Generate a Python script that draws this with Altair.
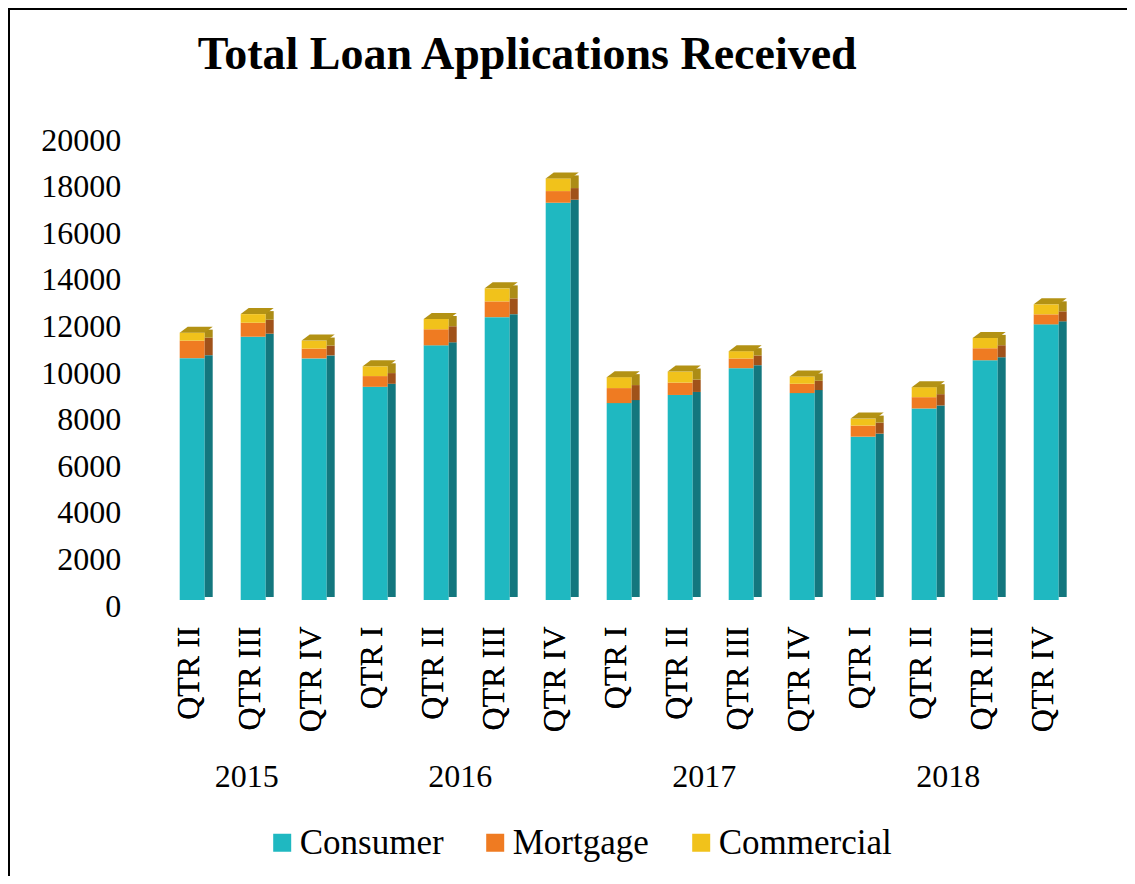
import json
import altair as alt
import pandas as pd

# ---- data ----
quarters = ["QTR II", "QTR III", "QTR IV",
            "QTR I", "QTR II", "QTR III", "QTR IV",
            "QTR I", "QTR II", "QTR III", "QTR IV",
            "QTR I", "QTR II", "QTR III", "QTR IV"]
years = [2015, 2015, 2015,
         2016, 2016, 2016, 2016,
         2017, 2017, 2017, 2017,
         2018, 2018, 2018, 2018]
consumer = [10380, 11300, 10370, 9150, 10930, 12140, 17050,
            8450, 8800, 9950, 8880, 7010, 8220, 10290, 11830]
mortgage = [750, 600, 420, 460, 690, 675, 500,
            645, 530, 415, 400, 475, 485, 515, 430]
commercial = [345, 370, 345, 420, 440, 560, 545,
              470, 475, 315, 315, 300, 430, 445, 430]
series_names = ["Consumer", "Mortgage", "Commercial"]
y_ticks = list(range(0, 20001, 2000))

front_colors = ["#1FB8C1", "#EF7B22", "#F1C21B"]
side_colors = ["#13777E", "#A0521A", "#AC8C16"]
top_color = "#B39214"

rows = []
for i in range(len(quarters)):
    for k, (name, vals) in enumerate(zip(series_names, [consumer, mortgage, commercial])):
        rows.append({"idx": i, "quarter": quarters[i], "year": years[i],
                     "series": name, "ord": k, "value": vals[i]})
df = pd.DataFrame(rows)

# year label positions = mean category index per year
year_list = sorted(set(years))
year_mid = {y: sum(i for i, yy in enumerate(years) if yy == y) / years.count(y) for y in year_list}
year_expr = " : ".join(f"datum.value == {year_mid[y]} ? '{y}'" for y in year_list) + " : ''"
qtr_expr = f"{json.dumps(quarters)}[datum.value]"

FONT = "Liberation Serif"
W, H = 925, 466
PL, PT = 144.7, 126
PR = 1119 - PL - W
PB = 868 - PT - H

xscale = alt.Scale(domain=[-0.5, len(quarters) - 0.5], nice=False, zero=False)
yscale = alt.Scale(domain=[0, 20000], nice=False)

y_axis = alt.Axis(values=y_ticks, format="d", labelFontSize=32, orient="left",
                  labelPadding=32, labelOffset=6, labelColor="#000",
                  labelFlush=False, ticks=False, domain=False, grid=False)
qtr_axis = alt.Axis(values=list(range(len(quarters))), labelExpr=qtr_expr, orient="bottom",
                    labelAngle=-90, labelAlign="right", labelBaseline="middle",
                    labelFontSize=32, labelPadding=26, labelColor="#000",
                    labelOverlap=False, labelFlush=False, ticks=False,
                    domain=False, grid=False)
year_axis = alt.Axis(values=[year_mid[y] for y in year_list], labelExpr=year_expr,
                     orient="bottom", labelFontSize=32, labelColor="#000",
                     labelBaseline="middle", labelPadding=0, offset=176, labelOffset=-3,
                     labelOverlap=False, labelFlush=False, ticks=False,
                     domain=False, grid=False)

base = alt.Chart(df)

front = base.mark_bar(width=25, xOffset=4).encode(
    x=alt.X("idx:Q", scale=xscale, title=None, axis=qtr_axis),
    y=alt.Y("value:Q", stack="zero", scale=yscale, title=None, axis=y_axis),
    color=alt.Color("series:N", sort=series_names,
                    scale=alt.Scale(domain=series_names, range=front_colors),
                    legend=alt.Legend(title=None, orient="none", legendX=112, legendY=691,
                                      direction="horizontal", columns=3,
                                      symbolType="square", symbolSize=324,
                                      symbolStrokeWidth=0, labelFontSize=35,
                                      labelColor="#000", labelOffset=0, labelLimit=0,
                                      columnPadding=34, padding=0)),
    order=alt.Order("ord:Q", sort="ascending"),
)

side = base.mark_bar(width=8, xOffset=4 + 12.5 + 4, yOffset=-3).encode(
    x=alt.X("idx:Q", scale=xscale, title=None, axis=year_axis),
    y=alt.Y("value:Q", stack="zero", scale=yscale, title=None, axis=y_axis),
    color=alt.Color("series:N", sort=series_names,
                    scale=alt.Scale(domain=series_names, range=side_colors),
                    legend=None),
    order=alt.Order("ord:Q", sort="ascending"),
)

top = base.transform_aggregate(
    total="sum(value)", groupby=["idx"]
).mark_point(shape="M-12.5,0L12.5,0L20.5,-6L-4.5,-6Z", size=4, filled=True,
             opacity=1, strokeWidth=0, color=top_color, xOffset=4).encode(
    x=alt.X("idx:Q", scale=xscale, title=None, axis=qtr_axis),
    y=alt.Y("total:Q", scale=yscale, title=None, axis=y_axis),
)

frame = alt.Chart(pd.DataFrame({"f": [0]})).mark_rect(
    filled=False, stroke="#000", strokeWidth=2
).encode(
    x=alt.value(-PL + 1), y=alt.value(-PT + 1),
    x2=alt.value(W + PR + 50), y2=alt.value(H + PB + 50),
)

chart = alt.layer(front, side, top, frame).resolve_scale(
    color="independent"
).resolve_axis(x="independent").properties(
    width=W, height=H,
    padding={"left": PL, "top": PT, "right": PR, "bottom": PB},
    autosize=alt.AutoSizeParams(type="none"),
    title=alt.Title("Total Loan Applications Received", font=FONT, fontSize=46,
                    fontWeight="bold", color="#000", anchor="middle", dx=-88,
                    offset=-71),
).configure(font=FONT).configure_view(stroke=None)

chart.save("out.html", embed_options={"renderer": "svg", "actions": False})
